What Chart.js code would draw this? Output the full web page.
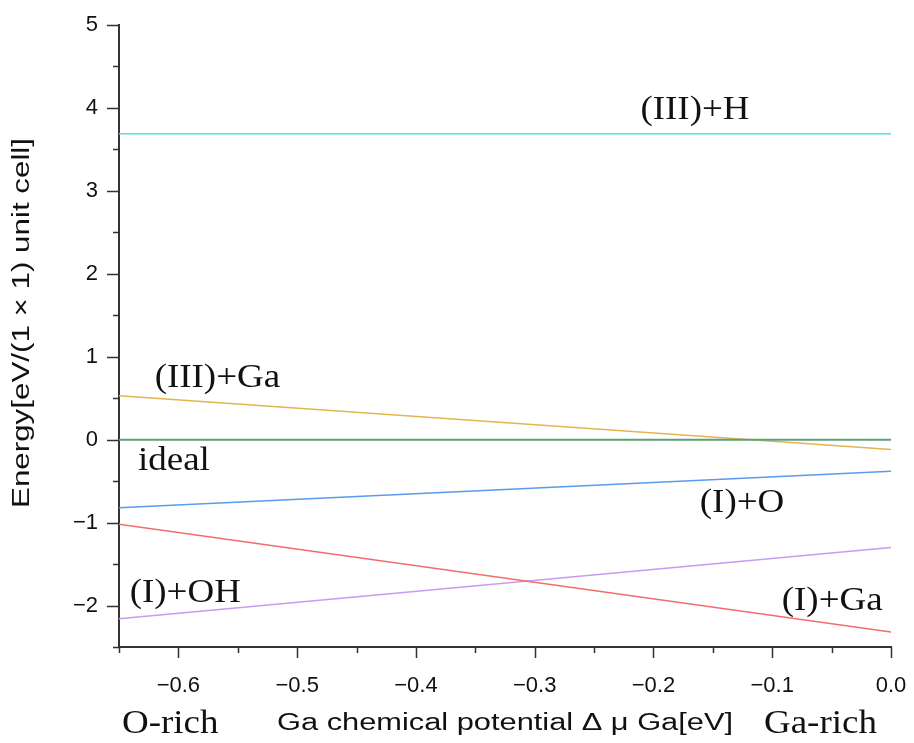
<!DOCTYPE html>
<html>
<head>
<meta charset="utf-8">
<script src="https://cdn.jsdelivr.net/npm/chart.js@4"></script>
<style>
  html, body { margin: 0; padding: 0; background: #fff; }
  #wrap { width: 914px; height: 743px; }
</style>
</head>
<body>
<div id="wrap"><canvas id="energyChart" width="914" height="743"></canvas></div>
<script>
// Ga chemical potential range (O-rich .. Ga-rich)
const muGa = [-0.65, 0.0];

// surface energies at the two ends
const iiiH  = [3.69, 3.69];
const iiiGa = [0.53, -0.12];
const ideal = [0.0, 0.0];
const iO    = [-0.82, -0.38];
const iGa   = [-1.02, -2.32];
const iOH   = [-2.16, -1.30];

const yTicks = [-2, -1, 0, 1, 2, 3, 4, 5];
const xTicks = [-0.6, -0.5, -0.4, -0.3, -0.2, -0.1, 0.0];

// line labels, anchored in data coords (left, baseline)
const lineLabels = [
    { text: '(III)+H',  x: -0.211, y: 3.87 },
    { text: '(III)+Ga', x: -0.620, y: 0.64 },
    { text: 'ideal',    x: -0.634, y: -0.36 },
    { text: '(I)+O',    x: -0.161, y: -0.87 },
    { text: '(I)+OH',   x: -0.641, y: -1.96 },
    { text: '(I)+Ga',   x: -0.092, y: -2.05 }
];

function pts(vals) {
    return muGa.map((x, i) => ({ x: x, y: vals[i] }));
}
function minus(s) { return s.replace('-', '\u2212'); }

const serif = '"Liberation Serif", "Times New Roman", serif';
const sans = '"Liberation Sans", Arial, sans-serif';

function serifText(ctx, text, x, y) {
    ctx.save();
    ctx.font = '33px ' + serif;
    ctx.fillStyle = '#111';
    ctx.textBaseline = 'alphabetic';
    ctx.translate(x, y);
    ctx.scale(1.12, 1);
    ctx.fillText(text, 0, 0);
    ctx.restore();
}

// sans text stretched sideways to a given width (the original uses a wide gothic face)
function wideText(ctx, text, width) {
    const w = ctx.measureText(text).width;
    ctx.scale(width / w, 1);
    ctx.fillText(text, 0, 0);
}

const decor = {
    id: 'decor',
    afterDraw(chart) {
        const ctx = chart.ctx;
        const xs = chart.scales.x, ys = chart.scales.y;
        const a = chart.chartArea;

        // ticks (major + minor), pointing outward
        ctx.save();
        ctx.strokeStyle = '#333';
        ctx.lineWidth = 1.5;
        ctx.beginPath();
        for (let i = 0; i <= 13; i++) {
            const v = -0.65 + i * 0.05;
            const major = i % 2 === 1;
            const px = Math.round(xs.getPixelForValue(v)) + 0.5;
            ctx.moveTo(px, a.bottom);
            ctx.lineTo(px, a.bottom + (major ? 11 : 6));
        }
        for (let i = 0; i <= 15; i++) {
            const v = -2.5 + i * 0.5;
            const major = i % 2 === 1;
            const py = Math.round(ys.getPixelForValue(v)) + 0.5;
            ctx.moveTo(a.left, py);
            ctx.lineTo(a.left - (major ? 12 : 6), py);
        }
        ctx.stroke();
        ctx.restore();

        // labels beside the lines
        lineLabels.forEach(l => {
            serifText(ctx, l.text, xs.getPixelForValue(l.x), ys.getPixelForValue(l.y));
        });

        // x axis caption row
        serifText(ctx, 'O-rich', a.left + 3, a.bottom + 86);
        serifText(ctx, 'Ga-rich', a.left + 645, a.bottom + 86);
        ctx.save();
        ctx.font = '23px ' + sans;
        ctx.fillStyle = '#111';
        ctx.translate(a.left + 158, a.bottom + 83);
        wideText(ctx, 'Ga chemical potential \u0394 \u03bc Ga[eV]', 456);
        ctx.restore();

        // y axis title
        ctx.save();
        ctx.translate(a.left - 96, 508);
        ctx.rotate(-Math.PI / 2);
        ctx.font = '23px ' + sans;
        ctx.fillStyle = '#111';
        ctx.textBaseline = 'middle';
        wideText(ctx, 'Energy[eV/(1 \u00d7 1) unit cell]', 370);
        ctx.restore();
    }
};

function series(vals, color, w) {
    return {
        data: pts(vals),
        borderColor: color,
        borderWidth: w || 1.5,
        pointRadius: 0,
        fill: false,
        tension: 0
    };
}

const ctx = document.getElementById('energyChart').getContext('2d');
const energyChart = new Chart(ctx, {
    type: 'line',
    data: {
        datasets: [
            series(ideal, '#5f9f78', 2),
            series(iiiH, '#48e4e8'),
            series(iiiGa, '#e2b64e'),
            series(iO, '#5a9bef'),
            series(iGa, '#f26c6c'),
            series(iOH, '#c99bee')
        ]
    },
    options: {
        responsive: false,
        animation: false,
        layout: { padding: { left: 0, top: 25, right: 23, bottom: 0 } },
        scales: {
            x: {
                type: 'linear',
                min: -0.65,
                max: 0,
                afterBuildTicks: s => { s.ticks = xTicks.map(v => ({ value: v })); },
                afterFit: s => { s.height = 96; s.paddingLeft = 0; s.paddingRight = 0; },
                grid: { display: false, drawTicks: false },
                border: { display: true, color: '#333', width: 2 },
                ticks: {
                    padding: 26,
                    color: '#111',
                    font: { family: sans, size: 22 },
                    callback: v => minus(v.toFixed(1))
                }
            },
            y: {
                min: -2.5,
                max: 5,
                afterBuildTicks: s => { s.ticks = yTicks.map(v => ({ value: v })); },
                afterFit: s => { s.width = 119; s.paddingTop = 0; s.paddingBottom = 0; },
                grid: { display: false, drawTicks: false },
                border: { display: true, color: '#333', width: 2 },
                ticks: {
                    padding: 21,
                    color: '#111',
                    font: { family: sans, size: 22 },
                    callback: v => minus(String(v))
                }
            }
        },
        plugins: {
            legend: { display: false },
            tooltip: { enabled: false }
        }
    },
    plugins: [decor]
});
</script>
</body>
</html>
